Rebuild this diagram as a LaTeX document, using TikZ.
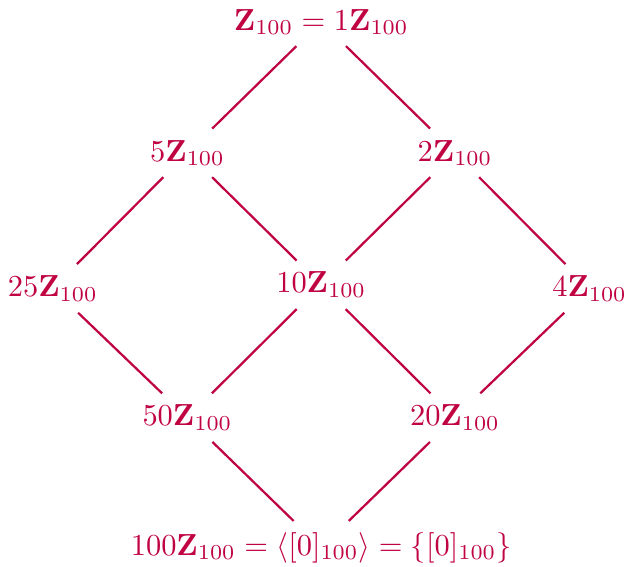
\documentclass[tikz,border=0pt]{standalone}
\usepackage{amsmath,amssymb}
\usetikzlibrary{positioning}
\definecolor{LatticeRed}{HTML}{C00442}
\tikzset{
  grp/.style={text=LatticeRed, inner sep=3.6pt, scale=.953},
  incl/.style={draw=LatticeRed, line width=.7pt},
}

\begin{document}
\begin{tikzpicture}
  \useasboundingbox (-3.53,-3.10) rectangle (3.35,3.13);
  \node[grp] (z1) at (0,2.89) {$\mathbf{Z}_{100}=1\mathbf{Z}_{100}$};
  \node[grp] (z5) at (-1.47,1.45) {$5\mathbf{Z}_{100}$};
  \node[grp] (z2) at (1.47,1.45) {$2\mathbf{Z}_{100}$};
  \node[grp] (z25) at (-2.95,-0.04) {$25\mathbf{Z}_{100}$};
  \node[grp] (z10) at (0,0) {$10\mathbf{Z}_{100}$};
  \node[grp] (z4) at (2.95,-0.04) {$4\mathbf{Z}_{100}$};
  \node[grp] (z50) at (-1.47,-1.46) {$50\mathbf{Z}_{100}$};
  \node[grp] (z20) at (1.47,-1.46) {$20\mathbf{Z}_{100}$};
  \node[grp] (z100) at (0,-2.89) {$100\mathbf{Z}_{100}=\langle[0]_{100}\rangle=\{[0]_{100}\}$};
  \draw[incl] (z1) -- (z5);
  \draw[incl] (z1) -- (z2);
  \draw[incl] (z5) -- (z25);
  \draw[incl] (z5) -- (z10);
  \draw[incl] (z2) -- (z10);
  \draw[incl] (z2) -- (z4);
  \draw[incl] (z25) -- (z50);
  \draw[incl] (z10) -- (z50);
  \draw[incl] (z10) -- (z20);
  \draw[incl] (z4) -- (z20);
  \draw[incl] (z50) -- (z100);
  \draw[incl] (z20) -- (z100);
\end{tikzpicture}
\end{document}
